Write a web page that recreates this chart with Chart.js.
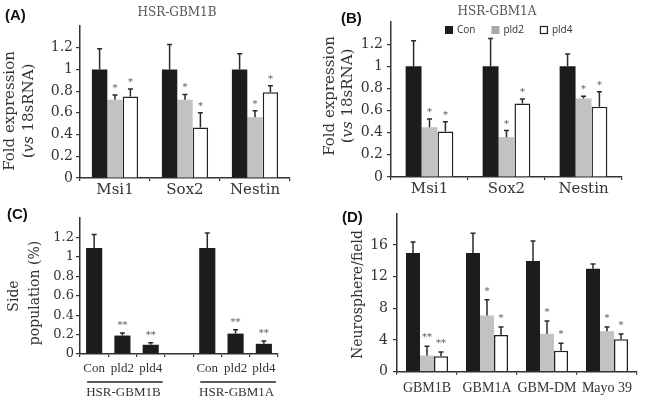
<!DOCTYPE html>
<html>
<head>
<meta charset="utf-8">
<script src="https://cdn.jsdelivr.net/npm/chart.js@4.4.0/dist/chart.umd.min.js"></script>
<style>
  body { margin: 0; background: #fff; width: 645px; height: 405px; position: relative; overflow: hidden; }
  canvas { position: absolute; }
</style>
</head>
<body>
<canvas id="cA" width="320" height="200" style="left:0;top:0"></canvas>
<canvas id="cB" width="325" height="200" style="left:320px;top:0"></canvas>
<canvas id="cC" width="320" height="205" style="left:0;top:200px"></canvas>
<canvas id="cD" width="325" height="205" style="left:320px;top:200px"></canvas>
<script>
// --- data ---
const genes = ["Msi1", "Sox2", "Nestin"];
const groups = ["Con", "pld2", "pld4"];
const exprTicks = [0, 0.2, 0.4, 0.6, 0.8, 1, 1.2];

// (A) HSR-GBM1B
const conA = [1, 1, 1];
const conA_sd = [0.19, 0.23, 0.145];
const pld2A = [0.72, 0.72, 0.56];
const pld2A_sd = [0.045, 0.05, 0.06];
const pld4A = [0.75, 0.465, 0.79];
const pld4A_sd = [0.07, 0.135, 0.06];
const sigA = [["", "", ""], ["*", "*", "*"], ["*", "*", "*"]];

// (B) HSR-GBM1A
const conB = [1, 1, 1];
const conB_sd = [0.23, 0.25, 0.11];
const pld2B = [0.45, 0.36, 0.71];
const pld2B_sd = [0.075, 0.06, 0.02];
const pld4B = [0.41, 0.665, 0.635];
const pld4B_sd = [0.09, 0.04, 0.135];
const sigB = [["", "", ""], ["*", "*", "*"], ["*", "*", "*"]];

// (C) side population
const spCats = ["Con", "pld2", "pld4", "", "Con", "pld2", "pld4"];
const spLines = ["HSR-GBM1B", "HSR-GBM1A"];
const spVals = [1.09, 0.19, 0.095, null, 1.09, 0.21, 0.105];
const spSd = [0.14, 0.025, 0.02, null, 0.155, 0.04, 0.03];
const spSig = ["", "**", "**", "", "", "**", "**"];

// (D) neurospheres
const lines = ["GBM1B", "GBM1A", "GBM-DM", "Mayo 39"];
const nsTicks = [0, 4, 8, 12, 16];
const conD = [15, 15, 14, 13];
const conD_sd = [1.4, 2.5, 2.5, 0.6];
const pld2D = [2.05, 7.1, 4.8, 5.1];
const pld2D_sd = [1.15, 2.0, 1.6, 0.55];
const pld4D = [1.95, 4.65, 2.65, 4.1];
const pld4D_sd = [0.55, 1.0, 0.95, 0.65];
const sigD = [["", "", "", ""], ["**", "*", "*", "*"], ["**", "*", "*", "*"]];

const TXT = "#333";
const SERIF = '"DejaVu Serif"';
const TIMES = '"Liberation Serif"';
const fills = ["#1c1c1c", "#c2c2c2", "#ffffff"];
const edges = ["#1c1c1c", "#c2c2c2", "#222"];
const edgeW = [0, 0, 1.5];

function drawRich(ctx, segs, x, y, rot, align) {
  ctx.save();
  ctx.translate(x, y);
  if (rot) ctx.rotate(-Math.PI / 2);
  let total = 0;
  segs.forEach(s => { ctx.font = s.font; s.w = ctx.measureText(s.t).width; total += s.w; });
  let cx = align === "left" ? 0 : -total / 2;
  ctx.textBaseline = "middle";
  ctx.textAlign = "left";
  segs.forEach(s => { ctx.font = s.font; ctx.fillStyle = s.color || TXT; ctx.fillText(s.t, cx, 0); cx += s.w; });
  ctx.restore();
}

// error bars, significance marks, free text
function extras(o) {
  return {
    id: "extras",
    afterDatasetsDraw(chart) {
      const ctx = chart.ctx, y = chart.scales.y;
      ctx.save();
      chart.data.datasets.forEach((ds, di) => {
        const meta = chart.getDatasetMeta(di);
        meta.data.forEach((bar, j) => {
          const v = ds.data[j], e = o.errs[di][j];
          if (v == null || e == null) return;
          const top = y.getPixelForValue(v + e);
          ctx.strokeStyle = "#2a2a2a";
          ctx.lineWidth = 1.5;
          ctx.beginPath();
          ctx.moveTo(bar.x, bar.y);
          ctx.lineTo(bar.x, top);
          ctx.moveTo(bar.x - o.cap, top);
          ctx.lineTo(bar.x + o.cap, top);
          ctx.stroke();
          const m = o.sig[di][j];
          if (m) {
            ctx.font = "10px " + SERIF;
            ctx.fillStyle = "#555";
            ctx.textAlign = "center";
            ctx.textBaseline = "alphabetic";
            ctx.fillText(m, bar.x, top - o.sigGap + 6);
          }
        });
      });
      ctx.restore();
    },
    afterDraw(chart) {
      const ctx = chart.ctx;
      (o.texts || []).forEach(t => drawRich(ctx, t.segs, t.x, t.y, t.rot, t.align));
      if (o.legend) {
        let x = o.legend.x;
        const yy = o.legend.y;
        ctx.save();
        chart.data.datasets.forEach((ds, i) => {
          ctx.fillStyle = i === 1 ? "#a8a8a8" : ds.backgroundColor;
          ctx.fillRect(x, yy - 4, 8, 8);
          if (ds.borderWidth) { ctx.strokeStyle = "#222"; ctx.lineWidth = 1.2; ctx.strokeRect(x + 0.5, yy - 3.5, 7, 7); }
          ctx.font = '10px "Open Sans"';
          ctx.fillStyle = TXT;
          ctx.textBaseline = "middle";
          ctx.textAlign = "left";
          ctx.fillText(ds.label, x + 12, yy);
          x += 12 + ctx.measureText(ds.label).width + 16;
        });
        ctx.restore();
      }
      if (o.underGroups) {
        const xs = chart.scales.x;
        ctx.save();
        o.underGroups.forEach(g => {
          const a = xs.getPixelForValue(g.from), b = xs.getPixelForValue(g.to);
          ctx.strokeStyle = "#222";
          ctx.lineWidth = 1.5;
          ctx.beginPath();
          ctx.moveTo(a - 7, o.lineY);
          ctx.lineTo(b + 12, o.lineY);
          ctx.stroke();
          drawRich(ctx, [{ t: g.name, font: "13px " + TIMES }], (a + b) / 2 + 1, o.lineY + 11, false);
        });
        ctx.restore();
      }
    }
  };
}

function bars(names, vals, catPct, barPct) {
  return vals.map((d, i) => ({
    label: names[i], data: d,
    backgroundColor: fills[i], borderColor: edges[i], borderWidth: edgeW[i],
    categoryPercentage: catPct, barPercentage: barPct
  }));
}

function panel(id, o) {
  const cv = document.getElementById(id);
  return new Chart(cv, {
    type: "bar",
    data: { labels: o.labels, datasets: o.datasets },
    options: {
      responsive: false,
      animation: false,
      events: [],
      layout: { padding: { left: 0, top: o.area.top, right: cv.width - o.area.right, bottom: 0 } },
      plugins: { legend: { display: false }, tooltip: { enabled: false }, title: { display: false } },
      scales: {
        x: {
          grid: { drawOnChartArea: false, tickLength: 3, color: "#333", lineWidth: 1.2 },
          border: { color: "#333", width: 1.5 },
          ticks: { font: { family: o.xFamily || SERIF, size: o.xFont }, color: TXT, padding: o.xPad, autoSkip: false, maxRotation: 0 },
          afterFit: s => { s.height = cv.height - o.area.bottom; }
        },
        y: {
          min: 0, max: o.max,
          grid: { drawOnChartArea: false, tickLength: 4, color: "#333", lineWidth: 1.2 },
          border: { color: "#333", width: 1.5 },
          ticks: { font: { family: SERIF, size: o.yFont }, color: TXT, padding: o.yPad, callback: v => String(v) },
          afterBuildTicks: s => { s.ticks = o.ticks.map(v => ({ value: v })); },
          afterFit: s => { s.width = o.area.left; }
        }
      }
    },
    plugins: [extras(o)]
  });
}

const F15 = "15px " + SERIF, F15i = "italic 15px " + SERIF, F14 = "14px " + SERIF;
const LET = 'bold 15px "Liberation Sans"';

panel("cA", {
  labels: genes,
  datasets: bars(groups, [conA, pld2A, pld4A], 0.66, 1),
  errs: [conA_sd, pld2A_sd, pld4A_sd], sig: sigA, cap: 2.5, sigGap: 10,
  area: { left: 80, right: 290, top: 26, bottom: 178 }, max: 1.4, ticks: exprTicks,
  xFont: 15, xPad: 0, yFont: 14, yPad: 3,
  texts: [
    { segs: [{ t: "(A)", font: LET, color: "#111" }], x: 5, y: 16, align: "left" },
    { segs: [{ t: "HSR-GBM1B", font: "12px " + SERIF, color: "#555" }], x: 177, y: 13 },
    { segs: [{ t: "Fold expression", font: F15 }], x: 10.5, y: 111, rot: true },
    { segs: [{ t: "(", font: F15 }, { t: "vs", font: F15i }, { t: " 18sRNA)", font: F15 }], x: 29.5, y: 111, rot: true }
  ]
});

panel("cB", {
  labels: genes,
  datasets: bars(groups, [conB, pld2B, pld4B], 0.62, 1),
  errs: [conB_sd, pld2B_sd, pld4B_sd], sig: sigB, cap: 2.5, sigGap: 10,
  area: { left: 71, right: 302, top: 22, bottom: 177 }, max: 1.4, ticks: exprTicks,
  xFont: 15, xPad: 0, yFont: 14, yPad: 4,
  legend: { x: 125, y: 30 },
  texts: [
    { segs: [{ t: "(B)", font: LET, color: "#111" }], x: 21, y: 19, align: "left" },
    { segs: [{ t: "HSR-GBM1A", font: "12px " + SERIF, color: "#555" }], x: 177, y: 12 },
    { segs: [{ t: "Fold expression", font: F15 }], x: 10, y: 96, rot: true },
    { segs: [{ t: "(", font: F15 }, { t: "vs", font: F15i }, { t: " 18sRNA)", font: F15 }], x: 28, y: 96, rot: true }
  ]
});

panel("cC", {
  labels: spCats,
  datasets: [{ label: "Side population", data: spVals, backgroundColor: fills[0], borderWidth: 0, categoryPercentage: 1, barPercentage: 0.57 }],
  errs: [spSd], sig: [spSig], cap: 2.5, sigGap: 11,
  area: { left: 80, right: 278, top: 18, bottom: 154 }, max: 1.4, ticks: exprTicks,
  xFamily: TIMES, xFont: 13, xPad: 4, yFont: 13, yPad: 2,
  lineY: 182,
  underGroups: [{ name: spLines[0], from: 0, to: 2 }, { name: spLines[1], from: 4, to: 6 }],
  texts: [
    { segs: [{ t: "(C)", font: LET, color: "#111" }], x: 7, y: 15, align: "left" },
    { segs: [{ t: "Side", font: F14 }], x: 14, y: 96, rot: true },
    { segs: [{ t: "population (%)", font: F14 }], x: 35, y: 93, rot: true }
  ]
});

panel("cD", {
  labels: lines,
  datasets: bars(groups, [conD, pld2D, pld4D], 0.7, 1),
  errs: [conD_sd, pld2D_sd, pld4D_sd], sig: sigD, cap: 2.5, sigGap: 12,
  area: { left: 77, right: 317, top: 10, bottom: 171.7 }, max: 20, ticks: nsTicks,
  xFamily: TIMES, xFont: 14, xPad: 5, yFont: 14, yPad: 5,
  texts: [
    { segs: [{ t: "(D)", font: LET, color: "#111" }], x: 22, y: 18, align: "left" },
    { segs: [{ t: "Neurosphere/field", font: F14 }], x: 38.5, y: 94.5, rot: true }
  ]
});
</script>
</body>
</html>
